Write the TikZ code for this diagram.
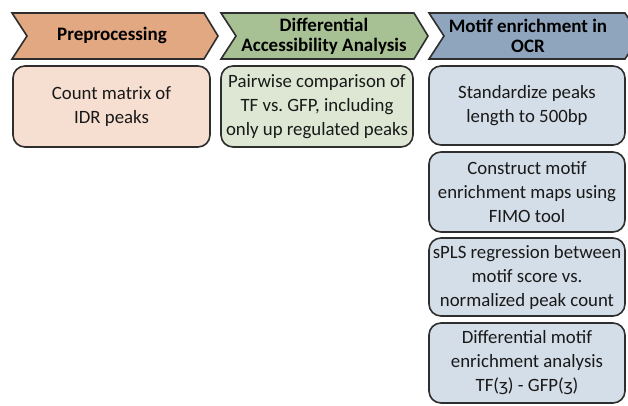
\documentclass[tikz,border=0pt]{standalone}
\usepackage{fontspec}
\setmainfont{Carlito}
\frenchspacing
\definecolor{chevO}{HTML}{E2A882}
\definecolor{chevG}{HTML}{A8C194}
\definecolor{chevB}{HTML}{8EA5BD}
\definecolor{boxO}{HTML}{F6DED0}
\definecolor{boxG}{HTML}{DDE7D3}
\definecolor{boxB}{HTML}{D4DEE8}
\definecolor{edge}{HTML}{2E2E2E}
\tikzset{
  chev/.style={draw=edge, line width=1.6pt, line join=miter},
  hdr/.style={font=\fontsize{19}{22}\selectfont\bfseries, align=center, text=black},
  stepbox/.style={draw=edge, line width=1.6pt, rounded corners=12pt, align=center,
     font=\fontsize{18.8}{24}\selectfont, text=black!90, inner sep=0pt},
}
\begin{document}
\begin{tikzpicture}[x=1pt,y=-1pt]
\frenchspacing
\useasboundingbox (0,0) rectangle (628,405);
\clip (0,0) rectangle (628,405);
% chevrons
\draw[chev, fill=chevO] (12,13) -- (204,13) -- (218,36) -- (204,59) -- (12,59) -- (27,36) -- cycle;
\draw[chev, fill=chevG] (221,13) -- (414,13) -- (428,36) -- (414,59) -- (221,59) -- (236,36) -- cycle;
\draw[chev, fill=chevB] (429,13) -- (625,13) -- (640,36) -- (625,59) -- (429,59) -- (444,36) -- cycle;
\node[hdr] (h1) at (112,35) {Preprocessing};
\node[hdr] (h2) at (324,36) {Differential\\[-2pt]Accessibility Analysis};
\node[hdr] (h3) at (528,36) {Motif enrichment in\\[-2pt]OCR};
% boxes
\node[stepbox, fill=boxO, minimum width=197pt, minimum height=81pt] (b1) at (111.5,106.5) {Count matrix of\\IDR peaks};
\node[stepbox, fill=boxG, minimum width=192pt, minimum height=81pt] (b2) at (317,106.5) {Pairwise comparison of\\TF vs. GFP, including\\only up regulated peaks};
\node[stepbox, fill=boxB, minimum width=196pt, minimum height=79pt] (b3) at (527,105.5) {Standardize peaks\\length to 500bp};
\node[stepbox, fill=boxB, minimum width=196pt, minimum height=80pt] (b4) at (527,192) {Construct motif\\enrichment maps using\\FIMO tool};
\node[stepbox, fill=boxB, minimum width=196pt, minimum height=78pt] (b5) at (527,277) {sPLS regression between\\motif score vs.\\normalized peak count};
\node[stepbox, fill=boxB, minimum width=196pt, minimum height=80pt] (b6) at (527,363) {Differential motif\\enrichment analysis\\TF(ʒ) - GFP(ʒ)};
\end{tikzpicture}
\end{document}
